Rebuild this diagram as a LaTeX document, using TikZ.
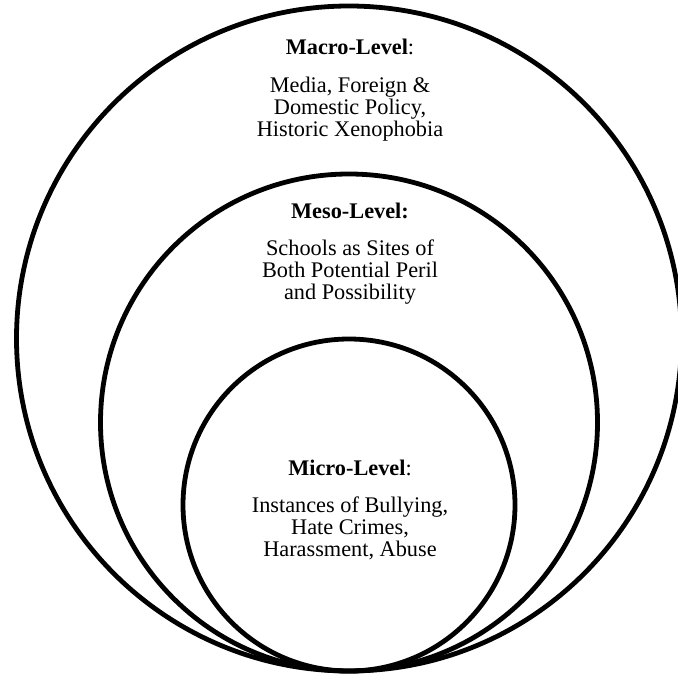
\documentclass[tikz,border=0pt]{standalone}
\usepackage{fontspec}
\setmainfont{Liberation Serif}
\usepackage{tikz}
\usetikzlibrary{
    positioning
}
\tikzset{
    ring/.style={
        circle,
        draw=black,
        line width=4.8pt,
        inner sep=0pt,
        outer sep=0pt
    },
    levelhead/.style={
        inner sep=0pt,
        anchor=base,
        font=\fontsize{22.3}{22}\selectfont
    },
    leveltext/.style={
        inner sep=0pt,
        align=center,
        font=\fontsize{22.3}{22}\selectfont
    }
}
\begin{document}
\begin{tikzpicture}[x=1pt, y=-1pt, node distance=21pt]
\useasboundingbox (0,0) rectangle (678,677);
\coordinate (touch) at (349,671);

% nested levels, all touching at the bottom
\node[ring, minimum size=665pt, anchor=south] (macro) at (touch) {};
\node[ring, minimum size=497pt, anchor=south] (meso) at (touch) {};
\node[ring, minimum size=332pt, anchor=south] (micro) at (touch) {};

\node[levelhead] (macrohead) at (350,55) {\textbf{Macro-Level}:};
\node[leveltext, below=of macrohead] (macrotext) {Media, Foreign \&\\ Domestic Policy,\\ Historic Xenophobia};

\node[levelhead] (mesohead) at (350,218) {\textbf{Meso-Level:}};
\node[leveltext, below=of mesohead] (mesotext) {Schools as Sites of\\ Both Potential Peril\\ and Possibility};

\node[levelhead] (microhead) at (350,475) {\textbf{Micro-Level}:};
\node[leveltext, below=of microhead] (microtext) {Instances of Bullying,\\ Hate Crimes,\\ Harassment, Abuse};
\end{tikzpicture}
\end{document}
